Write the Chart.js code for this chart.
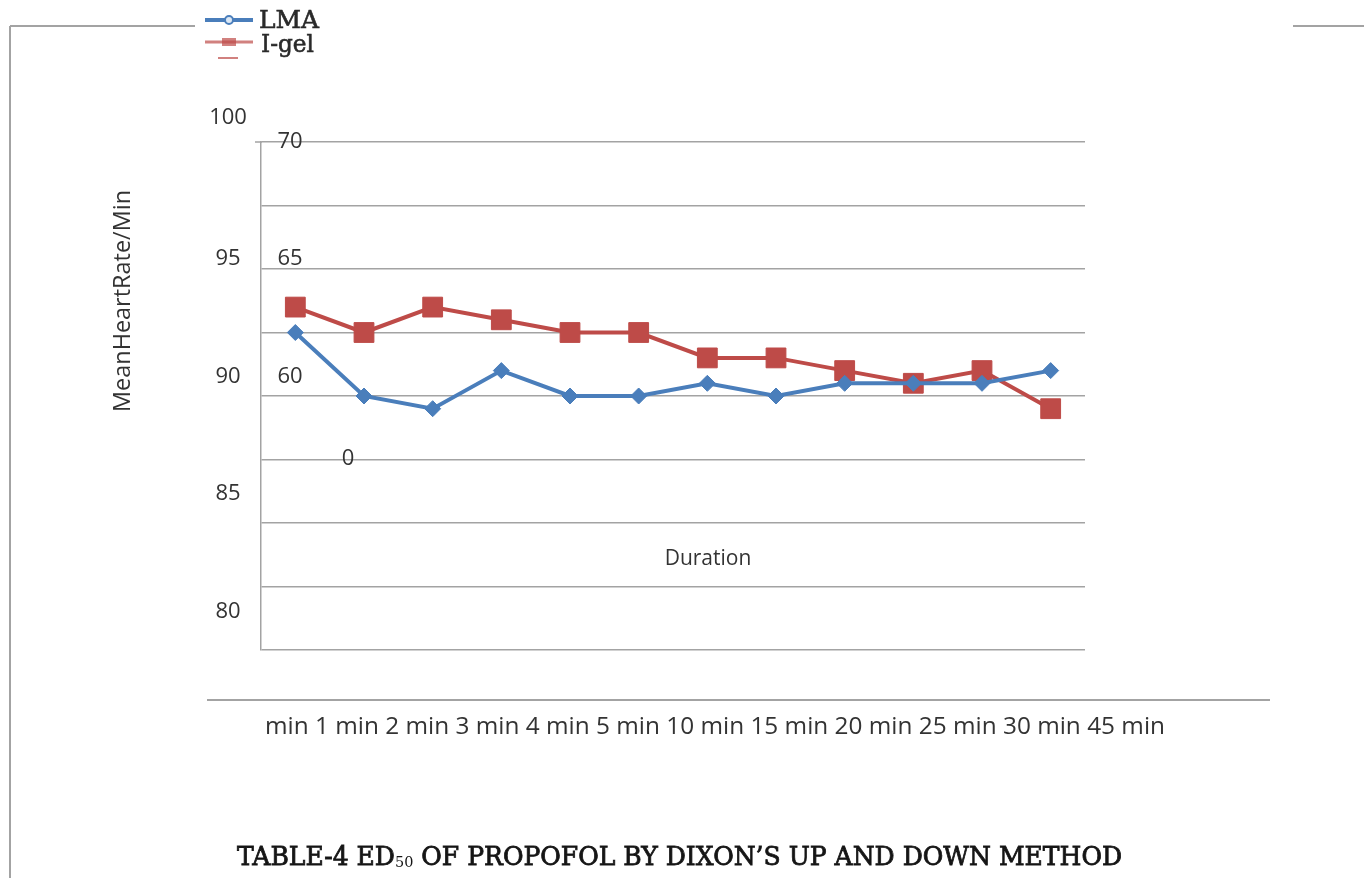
<!DOCTYPE html>
<html>
<head>
<meta charset="utf-8">
<script src="https://cdn.jsdelivr.net/npm/chart.js@4.4.1/dist/chart.umd.min.js"></script>
<style>
  html, body { margin: 0; padding: 0; background: #fff; }
  #chart { display: block; }
</style>
</head>
<body>
<canvas id="chart" width="1364" height="878"></canvas>
<script>
// categories along the duration axis
const categories = ['min', '1 min', '2 min', '3 min', '4 min', '5 min', '10 min', '15 min', '20 min', '25 min', '30 min', '45 min'];

// mean heart rate per minute
const lmaValues  = [92.5, 90, 89.5, 91, 90, 90, 90.5, 90, 90.5, 90.5, 90.5, 91];
const igelValues = [93.5, 92.5, 93.5, 93, 92.5, 92.5, 91.5, 91.5, 91, 90.5, 91, 89.5];

// tick labels as printed in the figure
const outerTicks = ['100', '95', '90', '85', '80'];
const innerTicks = ['70', '65', '60', '0'];

const yTitle = 'MeanHeartRate/Min';
const xTitle = 'Duration';
const caption = 'TABLE-4 ED';
const captionSub = '50';
const captionRest = ' OF PROPOFOL BY DIXON\u2019S UP AND DOWN METHOD';

const BLUE = '#4a7ebb';
const RED = '#be4b48';
const GRAY = '#a3a3a3';
const TEXT = '#333';

// draw text squeezed/stretched to a given width (optional faux-bold stroke)
function fitText(ctx, str, x, y, width, stroke) {
    const w = ctx.measureText(str).width;
    ctx.save();
    ctx.translate(x, y);
    ctx.scale(width / w, 1);
    ctx.fillText(str, 0, 0);
    if (stroke) {
        ctx.strokeStyle = ctx.fillStyle;
        ctx.lineWidth = stroke;
        ctx.strokeText(str, 0, 0);
    }
    ctx.restore();
}

const extras = {
    id: 'extras',
    afterDraw(chart) {
        const ctx = chart.ctx;
        ctx.save();

        // frame lines
        ctx.strokeStyle = GRAY;
        ctx.lineWidth = 2;
        ctx.beginPath();
        ctx.moveTo(10, 26); ctx.lineTo(195, 26);
        ctx.moveTo(1293, 26); ctx.lineTo(1364, 26);
        ctx.moveTo(10, 26); ctx.lineTo(10, 878);
        ctx.moveTo(207, 700); ctx.lineTo(1270, 700);
        ctx.stroke();

        // small tick at top of the value axis
        ctx.lineWidth = 1.5;
        ctx.beginPath();
        ctx.moveTo(255, 142); ctx.lineTo(262, 142);
        ctx.stroke();

        ctx.fillStyle = TEXT;
        ctx.textBaseline = 'middle';
        ctx.textAlign = 'center';
        ctx.font = '22px "Open Sans"';

        const outerY = [118, 259, 377, 494, 612];
        outerTicks.forEach((t, i) => ctx.fillText(t, 228, outerY[i]));

        const innerPos = [[290, 142], [290, 259], [290, 377], [348, 459]];
        innerTicks.forEach((t, i) => ctx.fillText(t, innerPos[i][0], innerPos[i][1]));

        // duration label
        ctx.font = '21px "Open Sans"';
        ctx.fillText(xTitle, 708, 559);

        // category strip below the chart
        ctx.textAlign = 'left';
        ctx.font = '23px "Open Sans"';
        fitText(ctx, chart.data.labels.join(' '), 265, 727, 900);

        // rotated y title
        ctx.save();
        ctx.translate(123, 301);
        ctx.rotate(-Math.PI / 2);
        ctx.textAlign = 'left';
        ctx.font = '23px "Open Sans"';
        fitText(ctx, yTitle, -111, 0, 222);
        ctx.restore();

        // legend
        const ds = chart.data.datasets;
        ctx.lineWidth = 4;
        ctx.strokeStyle = ds[0].borderColor;
        ctx.beginPath(); ctx.moveTo(205, 20); ctx.lineTo(253, 20); ctx.stroke();
        ctx.fillStyle = '#dce8f5';
        ctx.lineWidth = 2;
        ctx.beginPath(); ctx.arc(229, 20, 4, 0, Math.PI * 2); ctx.fill(); ctx.stroke();

        ctx.strokeStyle = ds[1].borderColor;
        ctx.lineWidth = 3;
        ctx.globalAlpha = 0.7;
        ctx.beginPath(); ctx.moveTo(205, 42); ctx.lineTo(253, 42); ctx.stroke();
        ctx.fillStyle = ds[1].backgroundColor;
        ctx.fillRect(222, 38, 14, 8);
        ctx.lineWidth = 2;
        ctx.beginPath(); ctx.moveTo(218, 58); ctx.lineTo(238, 58); ctx.stroke();
        ctx.globalAlpha = 1;

        ctx.fillStyle = '#2a2a2a';
        ctx.textAlign = 'left';
        ctx.font = '25px "DejaVu Serif"';
        fitText(ctx, ds[0].label, 259, 21, 60, 0.6);
        fitText(ctx, ds[1].label, 261, 45, 53, 0.6);

        // caption
        ctx.fillStyle = '#151515';
        ctx.font = '26px "DejaVu Serif"';
        const w1 = ctx.measureText(caption).width;
        ctx.font = '15px "DejaVu Serif"';
        const w2 = ctx.measureText(captionSub).width;
        ctx.font = '26px "DejaVu Serif"';
        const w3 = ctx.measureText(captionRest).width;
        const k = 885 / (w1 + w2 + w3);
        ctx.save();
        ctx.translate(237, 858);
        ctx.scale(k, 1);
        ctx.strokeStyle = '#151515';
        ctx.lineWidth = 0.8;
        ctx.fillText(caption, 0, 0);
        ctx.strokeText(caption, 0, 0);
        ctx.font = '15px "DejaVu Serif"';
        ctx.fillText(captionSub, w1, 5);
        ctx.font = '26px "DejaVu Serif"';
        ctx.fillText(captionRest, w1 + w2, 0);
        ctx.strokeText(captionRest, w1 + w2, 0);
        ctx.restore();

        ctx.restore();
    }
};

new Chart(document.getElementById('chart').getContext('2d'), {
    type: 'line',
    data: {
        labels: categories,
        datasets: [{
            label: 'LMA',
            data: lmaValues,
            borderColor: BLUE,
            backgroundColor: BLUE,
            borderWidth: 4,
            pointStyle: 'rectRot',
            pointRadius: 8,
            pointBorderWidth: 1,
            tension: 0
        }, {
            label: 'I-gel',
            data: igelValues,
            borderColor: RED,
            backgroundColor: RED,
            borderWidth: 4,
            pointStyle: 'rect',
            pointRadius: 14,
            pointBorderWidth: 1,
            tension: 0
        }]
    },
    options: {
        responsive: false,
        animation: false,
        devicePixelRatio: 1,
        layout: { padding: { left: 261, top: 142, right: 279, bottom: 228 } },
        plugins: {
            legend: { display: false },
            tooltip: { enabled: false }
        },
        scales: {
            x: {
                display: false,
                offset: true
            },
            y: {
                min: 80,
                max: 100,
                ticks: { display: false, stepSize: 2.5 },
                grid: { color: GRAY, lineWidth: 1.5, drawTicks: false },
                border: { color: GRAY, width: 1.5 }
            }
        }
    },
    plugins: [extras]
});
</script>
</body>
</html>
